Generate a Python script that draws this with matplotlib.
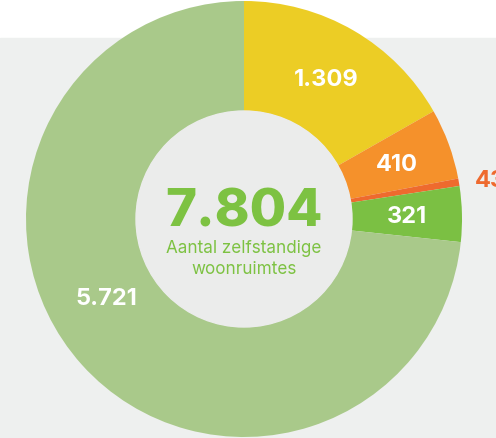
import matplotlib
matplotlib.use("Agg")
import matplotlib.pyplot as plt
import numpy as np
from matplotlib.patches import Rectangle, Circle

categories = ["A", "B", "C", "D", "E"]
values = [1309, 410, 43, 321, 5721]
labels = ["1.309", "410", "43", "321", "5.721"]
colors = ["#ECCD25", "#F5912B", "#EE6A2E", "#7BC043", "#A9C98A"]
total_label = "7.804"
caption = "Aantal zelfstandige\nwoonruimtes"

W, H = 496, 438
fig = plt.figure(figsize=(W / 100, H / 100), dpi=100, facecolor="white")
ax = fig.add_axes([0, 0, 1, 1])

ax.add_patch(Rectangle((0, 0), W, H - 38, color="#EEF0EF", zorder=0))

cx, cy = 244, H - 219
R = 218
rin = 108
wedges, _ = ax.pie(values, colors=colors, startangle=90, counterclock=False,
                   radius=R, center=(cx, cy), frame=True,
                   wedgeprops=dict(width=R - rin, linewidth=0))
ax.set_xlim(0, W)
ax.set_ylim(0, H)
ax.set_aspect("auto")
ax.axis("off")
ax.add_patch(Circle((cx, cy), rin, color="#EBECEB", zorder=3))

fam = ["Inter", "DejaVu Sans"]
label_r = [163, 163, 250, 163, 163]
for i, (w, lab) in enumerate(zip(wedges, labels)):
    ang = np.deg2rad((w.theta1 + w.theta2) / 2)
    r = label_r[i]
    x = cx + r * np.cos(ang)
    y = cy + r * np.sin(ang) - 2
    color = "white"
    if i == 2:
        color = "#EE6A2E"
        y -= 2
    if i == 4:
        x, y = 106, H - 299
    ax.text(x, y, lab, ha="center", va="center", color=color, fontsize=17,
            fontweight="bold", family=fam, zorder=5)

ax.text(cx, cy + 6, total_label, ha="center", va="center", color="#7DC242",
        fontsize=38, fontweight="heavy", family=fam, zorder=5)
ax.text(cx, cy - 40, caption, ha="center", va="center", color="#7DC242",
        fontsize=12.3, family=fam, linespacing=1.35, zorder=5)

fig.savefig("out.png", dpi=100, facecolor="white")
